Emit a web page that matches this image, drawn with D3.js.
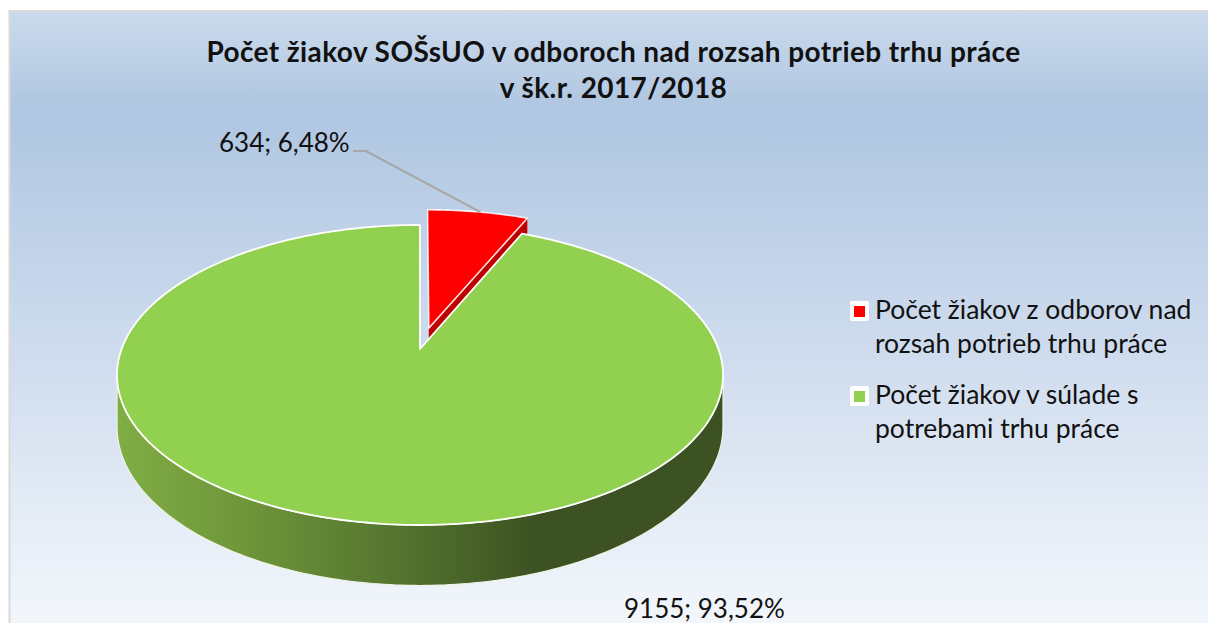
<!DOCTYPE html>
<html><head><meta charset="utf-8">
<script src="https://cdn.jsdelivr.net/npm/d3@7"></script>
<style>html,body{margin:0;padding:0;background:#fff}svg{display:block}text{font-family:Lato,"Open Sans",sans-serif;fill:#111}</style>
</head><body><div id="chart"></div>
<script>
const categories = ["Počet žiakov z odborov nad rozsah potrieb trhu práce","Počet žiakov v súlade s potrebami trhu práce"];
const values = [634, 9155];
const percentLabels = ["6,48%", "93,52%"];
const colors = ["#ff0000", "#92d050"];
const sideColors = ["#c00000"];
const titleLines = ["Počet žiakov SOŠsUO v odboroch nad rozsah potrieb trhu práce","v šk.r. 2017/2018"];
const legendLines = [["Počet žiakov z odborov nad","rozsah potrieb trhu práce"],["Počet žiakov v súlade s","potrebami trhu práce"]];

const W=1208,H=623;
const svg=d3.select("#chart").append("svg").attr("width",W).attr("height",H);
const defs=svg.append("defs");
const bg=defs.append("linearGradient").attr("id","bg").attr("x1",0).attr("x2",0).attr("y1",0).attr("y2",1);
[[0,"#cbdaec"],[0.16,"#afc6e1"],[0.55,"#cfdcee"],[1,"#f4f8fc"]].forEach(s=>bg.append("stop").attr("offset",s[0]).attr("stop-color",s[1]));
const sg=defs.append("linearGradient").attr("id","side").attr("gradientUnits","userSpaceOnUse").attr("x1",118).attr("x2",723).attr("y1",0).attr("y2",0);
[[0,"#80ad44"],[0.2,"#6f973a"],[0.45,"#56762f"],[0.69,"#3c5222"],[1,"#3c5222"]].forEach(s=>sg.append("stop").attr("offset",s[0]).attr("stop-color",s[1]));

svg.append("rect").attr("x",9.5).attr("y",11).attr("width",W).attr("height",H).attr("fill","url(#bg)").attr("stroke","#d9d9d9").attr("stroke-width",2);

// perspective projection of the pie plane
const cx=420,cy=349,a=298.4,b=145.5,k=0.1733,depth=50,explode=0.15;
const proj=(u,v,z=0)=>{const w=1/(1-k*v);return [cx+a*u*w,cy+b*v*w+z*w];};
const arcs=d3.pie().sort(null).value(d=>d)(values);
const steps=(s,e,n)=>d3.range(n+1).map(i=>s+(e-s)*i/n);
const line=d3.line();
function offset(d,ex){const m=(d.startAngle+d.endAngle)/2;return [ex*Math.sin(m),-ex*Math.cos(m)];}
function rim(s,e,o,z){return steps(s,e,Math.max(8,Math.ceil((e-s)*60))).map(t=>proj(Math.sin(t)+o[0],-Math.cos(t)+o[1],z));}
function topFace(d,ex){const o=offset(d,ex);return line([proj(o[0],o[1]),...rim(d.startAngle,d.endAngle,o,0)])+"Z";}

// exploded red slice: cut face then top
const red=arcs[0],green=arcs[1],ro=offset(red,explode);
const rt=proj(Math.sin(red.endAngle)+ro[0],-Math.cos(red.endAngle)+ro[1]);
const rtb=proj(Math.sin(red.endAngle)+ro[0],-Math.cos(red.endAngle)+ro[1],depth);
svg.append("path").attr("d",line([proj(ro[0],ro[1]),rt,rtb,proj(ro[0],ro[1],depth)])+"Z").attr("fill",sideColors[0]);
svg.append("path").attr("d",topFace(red,explode)).attr("fill",colors[0]).attr("stroke","#fff").attr("stroke-opacity",.85).attr("stroke-width",1.6).attr("stroke-linejoin","round");

// green side wall on the near half, bounded by the silhouette angles
const sil=Math.acos(k);
const s0=Math.PI-sil, s1=Math.PI+sil;
svg.append("path").attr("d",line([...rim(s0,s1,[0,0],0),...rim(s0,s1,[0,0],depth).reverse()])+"Z").attr("fill","url(#side)").attr("stroke","#eef3e6").attr("stroke-width",1.2);
svg.append("path").attr("d",topFace(green,0)).attr("fill",colors[1]).attr("stroke","#fff").attr("stroke-width",1.8).attr("stroke-linejoin","round");

// leader line
const rm=(red.startAngle+red.endAngle)/2;
const lp=proj(Math.sin(rm+0.01)+ro[0],-Math.cos(rm+0.01)+ro[1]);
svg.append("path").attr("d",line([[353,151],[366,151],lp])).attr("fill","none").attr("stroke","#a6a6a6").attr("stroke-width",2);

// text
const title=svg.append("g").attr("text-anchor","middle").attr("font-weight",700).attr("font-size",28).attr("letter-spacing",0.4);
titleLines.forEach((t,i)=>title.append("text").attr("x",613.5).attr("y",62+i*36).text(t));
const lab=(v,p)=>v+"; "+p;
svg.append("text").attr("x",219).attr("y",152).attr("font-size",26).text(lab(values[0],percentLabels[0]));
svg.append("text").attr("x",624).attr("y",618).attr("font-size",26).text(lab(values[1],percentLabels[1]));

const lg=svg.append("g");
[0,1].forEach(i=>{
  const y0=[311,396][i];
  lg.append("rect").attr("x",850).attr("y",y0-10).attr("width",19).attr("height",20).attr("rx",2).attr("fill","#fff");
  lg.append("rect").attr("x",854).attr("y",y0-5).attr("width",11).attr("height",11).attr("fill",colors[i]);
  legendLines[i].forEach((t,j)=>lg.append("text").attr("x",875).attr("y",y0+8+j*34).attr("font-size",26.5).text(t));
});
</script></body></html>
